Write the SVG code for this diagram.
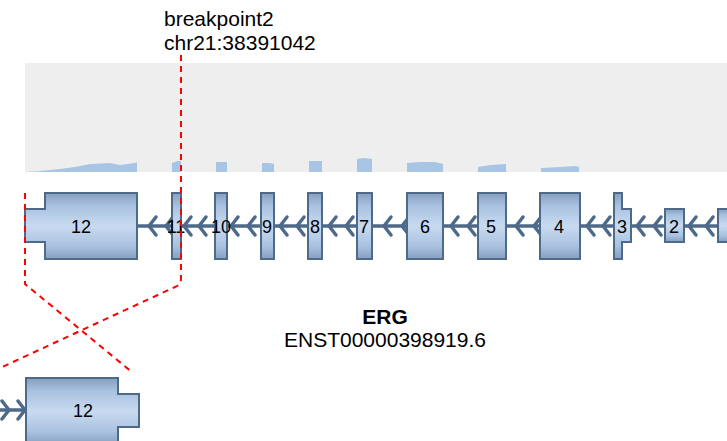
<svg xmlns="http://www.w3.org/2000/svg" width="727" height="441" viewBox="0 0 727 441">
<defs>
<linearGradient id="eg" x1="0" y1="0" x2="0" y2="1">
<stop offset="0" stop-color="#869fc0"/>
<stop offset="0.2" stop-color="#a9c2e0"/>
<stop offset="0.5" stop-color="#c8daf0"/>
<stop offset="0.8" stop-color="#a9c2e0"/>
<stop offset="1" stop-color="#869fc0"/>
</linearGradient>
<path id="chl" d="M7,-9 L0,0 L7,9" fill="none"/>
<path id="chr" d="M-7,-9 L0,0 L-7,9" fill="none"/>
</defs>
<style>
.ex{fill:url(#eg);stroke:#4e6a8a;stroke-width:2}
.intr{stroke:#4e6a8a;stroke-width:3.5}
.ch{stroke:#4e6a8a;stroke-width:3.5;stroke-linecap:round;stroke-linejoin:round}
.lbl{font-family:"Liberation Sans",Arial,sans-serif;font-size:18px;fill:#000;text-anchor:middle}
.txt{font-family:"Liberation Sans",Arial,sans-serif;font-size:21px;fill:#000}
.cov{fill:#a9c5e6}
.bp{fill:none;stroke:#ff0000;stroke-width:2;stroke-dasharray:6,5}
</style>
<rect x="25" y="63" width="702" height="109" fill="#eeeeee"/>
<g id="coverage">
<path class="cov" d="M25,172 L40,171 L60,169 L75,167 L90,164 L110,163 L120,165 L135,163 L137,162 L137,172 Z"/>
<path class="cov" d="M172,163 L178,161 L181,161 L181,172 L172,172 Z"/>
<rect class="cov" x="216" y="162" width="11" height="10"/>
<path class="cov" d="M262,163 L270,163 L274,164 L274,172 L262,172 Z"/>
<rect class="cov" x="309" y="161" width="13" height="11"/>
<path class="cov" d="M357,159 L364,158 L372,159 L372,172 L357,172 Z"/>
<path class="cov" d="M407,163 L420,162 L435,162 L443,164 L443,172 L407,172 Z"/>
<path class="cov" d="M478,167 L490,165 L506,164 L506,172 L478,172 Z"/>
<path class="cov" d="M541,168 L560,167 L575,166 L579,167 L579,172 L541,172 Z"/>
</g>
<g id="connectors">
<line class="intr" x1="137" y1="226" x2="727" y2="226"/>
<g class="ch">
<use href="#chl" x="149" y="226"/><use href="#chl" x="166" y="226"/>
<use href="#chl" x="184" y="226"/><use href="#chl" x="199" y="226"/>
<use href="#chl" x="231" y="226"/><use href="#chl" x="248" y="226"/>
<use href="#chl" x="280" y="226"/><use href="#chl" x="297" y="226"/>
<use href="#chl" x="329" y="226"/><use href="#chl" x="346" y="226"/>
<use href="#chl" x="384" y="226"/><use href="#chl" x="402" y="226"/>
<use href="#chl" x="451" y="226"/><use href="#chl" x="468" y="226"/>
<use href="#chl" x="516" y="226"/><use href="#chl" x="534" y="226"/>
<use href="#chl" x="587" y="226"/><use href="#chl" x="603" y="226"/>
<use href="#chl" x="637" y="226"/><use href="#chl" x="654" y="226"/>
<use href="#chl" x="689" y="226"/><use href="#chl" x="706" y="226"/>
</g>
<line class="intr" x1="0" y1="410" x2="26" y2="410"/>
<g class="ch">
<use href="#chr" x="9" y="410"/><use href="#chr" x="25" y="410"/>
</g>
</g>
<g id="exon12"><path class="ex" d="M45,193 H137 V259 H45 V242 H25 V209 H45 Z"/><text class="lbl" x="81" y="233">12</text></g>
<g id="exon11"><rect class="ex" x="172" y="193" width="9" height="66"/><text class="lbl" x="176" y="233">11</text></g>
<g id="exon10"><rect class="ex" x="215" y="193" width="12" height="66"/><text class="lbl" x="221" y="233">10</text></g>
<g id="exon9"><rect class="ex" x="261" y="193" width="13" height="66"/><text class="lbl" x="267" y="233">9</text></g>
<g id="exon8"><rect class="ex" x="308" y="193" width="14" height="66"/><text class="lbl" x="315" y="233">8</text></g>
<g id="exon7"><rect class="ex" x="357" y="193" width="15" height="66"/><text class="lbl" x="364" y="233">7</text></g>
<g id="exon6"><rect class="ex" x="407" y="193" width="36" height="66"/><text class="lbl" x="425" y="233">6</text></g>
<g id="exon5"><rect class="ex" x="478" y="193" width="28" height="66"/><text class="lbl" x="491" y="233">5</text></g>
<g id="exon4"><rect class="ex" x="540" y="193" width="40" height="66"/><text class="lbl" x="559" y="233">4</text></g>
<g id="exon3"><path class="ex" d="M614,193 H622 V209 H631 V242 H622 V259 H614 Z"/><text class="lbl" x="622" y="233">3</text></g>
<g id="exon2"><rect class="ex" x="665" y="209" width="19" height="33"/><text class="lbl" x="674" y="233">2</text></g>
<g id="exon1"><rect class="ex" x="718" y="209" width="12" height="33"/></g>
<g id="exon12b"><path class="ex" d="M26,378 H118 V394 H139 V427 H118 V445 H26 Z"/><text class="lbl" x="83" y="417">12</text></g>
<g id="breakpoint">
<path class="bp" d="M181,55 V278 Q181,285 175,287 L0,368"/>
<path class="bp" d="M25,193 V284 L133,373"/>
</g>
<text class="txt" x="164" y="26">breakpoint2</text>
<text class="txt" x="164" y="50">chr21:38391042</text>
<text class="txt" x="385" y="324" text-anchor="middle" font-weight="bold" font-size="20">ERG</text>
<text class="txt" x="385" y="347" text-anchor="middle" font-size="17.5">ENST00000398919.6</text>
</svg>
